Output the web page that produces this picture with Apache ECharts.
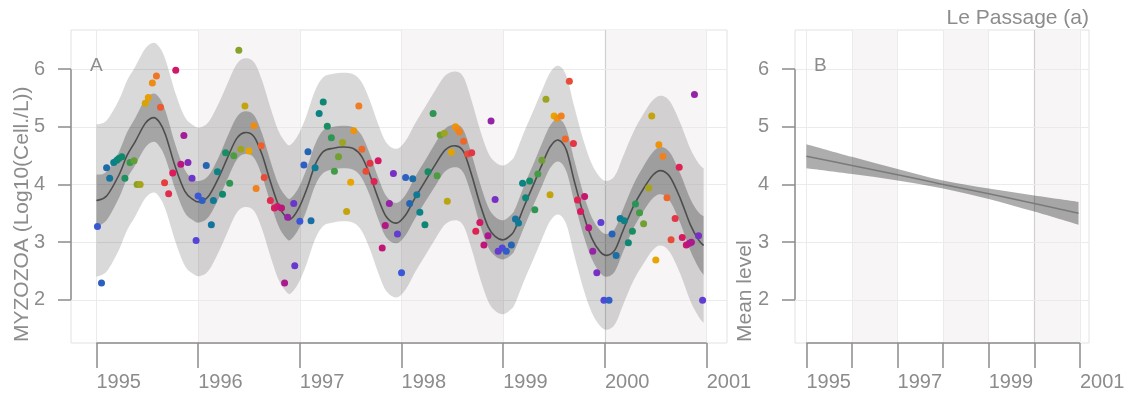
<!DOCTYPE html>
<html><head><meta charset="utf-8">
<script src="https://cdn.jsdelivr.net/npm/echarts@6/dist/echarts.min.js"></script>
<style>html,body{margin:0;padding:0;background:#fff}#c{width:1129px;height:396px}</style>
</head><body><div id="c"></div>
<script>
// ---- observations (time in decimal years, value in log10 cells/L)
const ptTime = [
 1995.01,1995.05,1995.10,1995.13,1995.17,1995.20,1995.22,1995.25,1995.28,1995.33,1995.37,1995.40,1995.43,1995.48,1995.51,1995.55,1995.59,1995.63,1995.67,1995.71,1995.75,1995.78,1995.83,1995.86,1995.90,1995.94,1995.98,
 1996.00,1996.04,1996.08,1996.13,1996.15,1996.19,1996.24,1996.27,1996.31,1996.35,1996.40,1996.42,1996.46,1996.50,1996.55,1996.57,1996.62,1996.65,1996.71,1996.75,1996.78,1996.82,1996.85,1996.88,1996.94,1996.95,
 1997.00,1997.04,1997.08,1997.11,1997.15,1997.19,1997.23,1997.27,1997.31,1997.34,1997.38,1997.42,1997.46,1997.50,1997.53,1997.58,1997.61,1997.65,1997.69,1997.73,1997.77,1997.81,1997.84,1997.88,1997.92,1997.96,
 1998.00,1998.04,1998.08,1998.11,1998.15,1998.18,1998.23,1998.26,1998.31,1998.35,1998.38,1998.42,1998.45,1998.49,1998.53,1998.55,1998.57,1998.61,1998.65,1998.69,1998.73,1998.77,1998.81,1998.85,1998.88,1998.92,1998.95,1998.99,
 1999.03,1999.08,1999.12,1999.15,1999.19,1999.22,1999.26,1999.31,1999.34,1999.38,1999.42,1999.46,1999.50,1999.53,1999.57,1999.61,1999.65,1999.69,1999.73,1999.76,1999.80,1999.84,1999.88,1999.92,1999.96,1999.99,
 2000.04,2000.07,2000.11,2000.15,2000.19,2000.23,2000.27,2000.30,2000.34,2000.38,2000.43,2000.46,2000.50,2000.53,2000.57,2000.61,2000.65,2000.69,2000.73,2000.76,2000.80,2000.83,2000.85,2000.88,2000.92,2000.96
];
const ptValue = [
 3.27,2.29,4.29,4.11,4.38,4.42,4.45,4.48,4.11,4.38,4.41,4.00,4.00,5.41,5.51,5.76,5.88,5.34,4.03,3.84,4.20,5.98,4.35,4.85,4.38,4.11,3.03,
 3.80,3.72,4.33,3.30,3.72,4.22,3.83,4.55,4.02,4.50,6.33,4.61,5.36,4.58,5.02,3.93,4.67,4.12,3.72,3.59,3.62,3.59,2.29,3.43,3.67,2.59,
 3.36,4.34,4.57,3.37,4.29,5.23,5.43,5.01,4.81,4.23,4.48,4.73,3.53,4.04,4.93,5.36,4.61,4.23,4.37,4.05,4.41,2.90,3.29,3.67,4.19,3.14,
 2.47,4.12,3.67,4.10,3.82,3.52,3.30,4.22,5.23,4.15,4.86,4.89,3.71,4.56,5.00,4.96,4.91,4.75,4.53,4.55,3.19,3.34,2.95,3.11,5.10,3.74,2.84,2.90,
 2.84,2.95,3.40,3.33,4.02,3.77,4.06,3.56,4.18,4.42,5.48,3.82,5.19,5.15,5.19,4.79,5.79,4.71,3.73,3.53,3.79,3.25,2.84,2.47,3.34,1.99,
 1.99,3.14,2.77,3.41,3.37,2.99,3.19,3.66,3.51,3.32,3.94,5.19,2.69,4.69,4.49,3.77,3.04,3.41,4.30,3.08,2.95,2.98,3.00,5.56,3.11,1.99
];
// ---- seasonal fit (panel A)
const fitTime = [
 1995.00,1995.10,1995.22,1995.30,1995.38,1995.48,1995.56,1995.62,1995.68,1995.78,1995.87,1995.95,
 1996.01,1996.10,1996.20,1996.30,1996.38,1996.46,1996.55,1996.63,1996.71,1996.79,1996.86,1996.91,1996.99,
 1997.07,1997.15,1997.23,1997.33,1997.43,1997.53,1997.61,1997.69,1997.77,1997.85,1997.95,
 1998.04,1998.13,1998.23,1998.33,1998.43,1998.53,1998.61,1998.69,1998.77,1998.85,1998.92,
 1999.00,1999.08,1999.12,1999.21,1999.31,1999.38,1999.46,1999.54,1999.62,1999.70,1999.79,1999.87,1999.95,
 2000.02,2000.10,2000.18,2000.28,2000.38,2000.47,2000.55,2000.64,2000.74,2000.84,2000.92,2000.97
];
const fitMean = [
 3.72,3.80,4.16,4.50,4.74,5.06,5.16,5.08,4.86,4.28,3.88,3.74,
 3.70,3.79,4.11,4.51,4.80,4.90,4.83,4.51,4.05,3.64,3.44,3.40,3.59,
 3.93,4.34,4.57,4.63,4.65,4.62,4.48,4.16,3.76,3.44,3.33,
 3.47,3.76,4.05,4.34,4.60,4.67,4.57,4.16,3.67,3.27,3.10,
 3.04,3.13,3.24,3.64,4.05,4.34,4.65,4.77,4.60,4.05,3.47,3.07,2.84,
 2.77,2.87,3.21,3.62,3.93,4.16,4.24,4.13,3.76,3.30,3.04,2.94
];
const ciHalf = [
 0.45,0.42,0.40,0.40,0.41,0.42,0.42,0.42,0.41,0.39,0.37,0.36,
 0.36,0.36,0.36,0.37,0.37,0.37,0.37,0.37,0.36,0.36,0.36,0.36,0.36,
 0.36,0.36,0.37,0.37,0.37,0.37,0.37,0.36,0.36,0.36,0.35,
 0.35,0.36,0.36,0.37,0.37,0.37,0.37,0.36,0.36,0.35,0.34,
 0.34,0.35,0.35,0.36,0.36,0.37,0.37,0.37,0.37,0.36,0.36,0.36,0.37,
 0.37,0.37,0.37,0.38,0.39,0.40,0.41,0.42,0.43,0.45,0.48,0.51
];
const piHalf = [
 1.32,1.31,1.30,1.30,1.30,1.30,1.30,1.30,1.30,1.29,1.29,1.29,
 1.29,1.29,1.29,1.29,1.29,1.29,1.29,1.29,1.29,1.29,1.29,1.29,1.29,
 1.29,1.29,1.29,1.29,1.29,1.29,1.29,1.29,1.29,1.29,1.29,
 1.29,1.29,1.29,1.29,1.29,1.29,1.29,1.29,1.29,1.29,1.29,
 1.29,1.29,1.29,1.29,1.29,1.29,1.29,1.29,1.29,1.29,1.29,1.29,1.29,
 1.29,1.29,1.29,1.29,1.30,1.30,1.30,1.31,1.31,1.32,1.33,1.34
];
// ---- trend (panel B)
const trendTime = [1995, 1996, 1997, 1998, 1999, 2000, 2000.97];
const trendMean = [4.49, 4.33, 4.17, 4.00, 3.84, 3.67, 3.50];
const trendHalf = [0.21, 0.15, 0.10, 0.07, 0.09, 0.14, 0.20];
// ---- axes
const yearTicks = [1995, 1996, 1997, 1998, 1999, 2000, 2001];
const yearLabelsB = [1995, 1997, 1999, 2001];
const yTicks = [2, 3, 4, 5, 6];
const shadedYears = [[1996, 1997], [1998, 1999], [2000, 2001]];
const markedYear = 2000;
const monthPalette = ['#3b56d6','#2266b0','#0a7f8e','#0e8a6a','#3a9a48','#9aa420','#e8a400','#f27a22','#e6403c','#dc1a5c','#b81480','#7a2ec4','#4a4ade'];

const FONT = 'Liberation Sans';
const TXT = '#8c8c8c';
const X_MIN = 1994.75, X_MAX = 2001.2, Y_MIN = 1.25, Y_MAX = 6.68;

function xAxisDef(gi, labels) {
  return {
    type: 'value', gridIndex: gi, min: X_MIN, max: X_MAX,
    axisLine: { show: false },
    axisTick: { show: true, length: 25, customValues: yearTicks, lineStyle: { color: '#8c8c8c', width: 1.5 } },
    axisLabel: { customValues: labels, margin: 29, align: 'left', color: TXT, fontSize: 20, fontFamily: FONT,
      formatter: v => String(Math.round(v)) },
    splitLine: { show: false }
  };
}
function yAxisDef(gi) {
  return {
    type: 'value', gridIndex: gi, min: Y_MIN, max: Y_MAX,
    axisLine: { show: false },
    axisTick: { show: true, length: 13, customValues: yTicks, lineStyle: { color: '#8c8c8c', width: 1.5 } },
    axisLabel: { customValues: yTicks, margin: 26, color: TXT, fontSize: 20, fontFamily: FONT },
    splitLine: { show: false }
  };
}
function gridMarkers() {
  const lines = yearTicks.map(y => (y === markedYear
      ? { xAxis: y, lineStyle: { color: '#d0d0d0', width: 1.2 } }
      : { xAxis: y }))
    .concat(yTicks.map(v => ({ yAxis: v })));
  return {
    markArea: { z: 1, silent: true, itemStyle: { color: '#f7f5f6' },
      data: shadedYears.map(p => [{ xAxis: p[0] }, { xAxis: p[1] }]) },
    markLine: { z: 1.5, silent: true, symbol: ['none', 'none'], label: { show: false },
      lineStyle: { color: '#ebebeb', width: 1, type: 'solid' }, data: lines }
  };
}
// Catmull-Rom spline through pixel points -> SVG path commands
function splinePath(pts, start) {
  const f = p => p[0].toFixed(2) + ',' + p[1].toFixed(2);
  let d = start + f(pts[0]);
  for (let i = 0; i < pts.length - 1; i++) {
    const p0 = pts[i - 1] || pts[i], p1 = pts[i], p2 = pts[i + 1], p3 = pts[i + 2] || p2;
    const c1 = [p1[0] + (p2[0] - p0[0]) / 6, p1[1] + (p2[1] - p0[1]) / 6];
    const c2 = [p2[0] - (p3[0] - p1[0]) / 6, p2[1] - (p3[1] - p1[1]) / 6];
    d += 'C' + f(c1) + ' ' + f(c2) + ' ' + f(p2);
  }
  return d;
}
function bandSeries(gi, t, mid, half, color, extra) {
  return Object.assign({
    type: 'custom', xAxisIndex: gi, yAxisIndex: gi, silent: true, z: 2,
    data: [[t[0], mid[0]]],
    renderItem: (params, api) => {
      const up = t.map((x, i) => api.coord([x, mid[i] + half[i]]));
      const lo = t.map((x, i) => api.coord([x, mid[i] - half[i]])).reverse();
      const d = splinePath(up, 'M') + splinePath(lo, 'L') + 'Z';
      return { type: 'path', shape: { pathData: d }, style: { fill: color, stroke: null } };
    }
  }, extra || {});
}
function curveSeries(gi, t, mid, color, width, z) {
  return {
    type: 'custom', xAxisIndex: gi, yAxisIndex: gi, silent: true, z: z,
    data: [[t[0], mid[0]]],
    renderItem: (params, api) => {
      const pts = t.map((x, i) => api.coord([x, mid[i]]));
      return { type: 'path', shape: { pathData: splinePath(pts, 'M') },
        style: { fill: null, stroke: color, lineWidth: width } };
    }
  };
}

const chart = echarts.init(document.getElementById('c'), null, { renderer: 'canvas' });
const scatterData = ptTime.map((t, i) => [t, ptValue[i], t - Math.floor(t)]);

const series = [];
series.push(bandSeries(0, fitTime, fitMean, piHalf, 'rgba(0,0,0,0.15)', gridMarkers()));
series.push(bandSeries(0, fitTime, fitMean, ciHalf, 'rgba(0,0,0,0.24)'));
series.push(curveSeries(0, fitTime, fitMean, '#4d4d4d', 1.6, 3));
const scatterIndex = series.length;
series.push({
  type: 'scatter', xAxisIndex: 0, yAxisIndex: 0, data: scatterData, symbolSize: 7,
  itemStyle: { opacity: 1 }, z: 4
});
series.push(bandSeries(1, trendTime, trendMean, trendHalf, 'rgba(0,0,0,0.32)', gridMarkers()));
series.push(curveSeries(1, trendTime, trendMean, '#7a7a7a', 1.5, 3));

chart.setOption({
  animation: false,
  backgroundColor: '#ffffff',
  grid: [
    { left: 71, top: 30, right: 402, bottom: 53, show: true, borderColor: '#e2e2e2', borderWidth: 1, backgroundColor: 'transparent' },
    { left: 795, top: 30, right: 40, bottom: 53, show: true, borderColor: '#e2e2e2', borderWidth: 1, backgroundColor: 'transparent' }
  ],
  xAxis: [xAxisDef(0, yearTicks), xAxisDef(1, yearLabelsB)],
  yAxis: [yAxisDef(0), yAxisDef(1)],
  visualMap: { type: 'continuous', show: false, seriesIndex: scatterIndex, dimension: 2, min: 0, max: 1,
    inRange: { color: monthPalette } },
  series: series
});

// truncated axis lines drawn from the axes' own scales
const g = [];
[0, 1].forEach(gi => {
  const a = chart.convertToPixel({ gridIndex: gi }, [yearTicks[0], Y_MIN]);
  const b = chart.convertToPixel({ gridIndex: gi }, [yearTicks[yearTicks.length - 1], Y_MIN]);
  const c = chart.convertToPixel({ gridIndex: gi }, [X_MIN, yTicks[0]]);
  const d = chart.convertToPixel({ gridIndex: gi }, [X_MIN, yTicks[yTicks.length - 1]]);
  g.push({ type: 'line', shape: { x1: a[0], y1: a[1], x2: b[0], y2: b[1] }, style: { stroke: '#8c8c8c', lineWidth: 1.5 }, z: 10 });
  g.push({ type: 'line', shape: { x1: c[0], y1: c[1], x2: d[0], y2: d[1] }, style: { stroke: '#8c8c8c', lineWidth: 1.5 }, z: 10 });
});
g.push({ type: 'text', x: 22, y: 342, rotation: Math.PI / 2,
  style: { text: 'MYZOZOA (Log10(Cell./L))', fill: TXT, font: '21px "Liberation Sans"', align: 'left', verticalAlign: 'middle' } });
g.push({ type: 'text', x: 745, y: 342, rotation: Math.PI / 2,
  style: { text: 'Mean level', fill: TXT, font: '21px "Liberation Sans"', align: 'left', verticalAlign: 'middle' } });
g.push({ type: 'text', x: 90, y: 66, style: { text: 'A', fill: TXT, font: '19px "Liberation Sans"', align: 'left', verticalAlign: 'middle' }, z: 10 });
g.push({ type: 'text', x: 814, y: 66, style: { text: 'B', fill: TXT, font: '19px "Liberation Sans"', align: 'left', verticalAlign: 'middle' }, z: 10 });
g.push({ type: 'text', x: 1089, y: 18, style: { text: 'Le Passage (a)', fill: TXT, font: '21px "Liberation Sans"', align: 'right', verticalAlign: 'middle' } });
chart.setOption({ graphic: g });
</script>
</body></html>
